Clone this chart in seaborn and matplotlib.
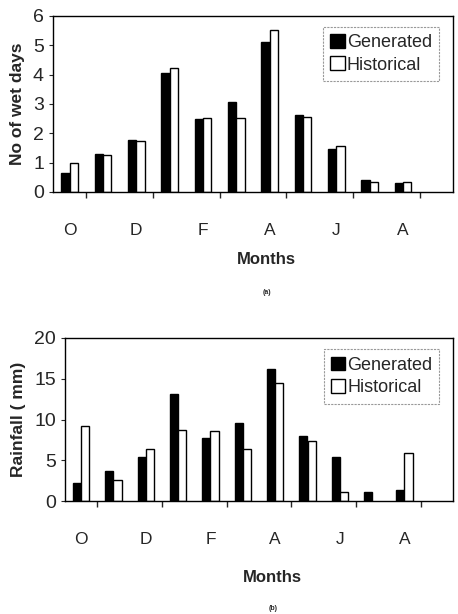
import numpy as np
import pandas as pd
import matplotlib
matplotlib.use("Agg")
import matplotlib.pyplot as plt
import seaborn as sns

meses = ["O", "N", "D", "J", "F", "M", "A", "M", "J", "J", "A", "S"]
rotulos_x = ["O", "", "D", "", "F", "", "A", "", "J", "", "A", ""]

dias_gerados = [0.66, 1.30, 1.76, 4.06, 2.49, 3.06, 5.10, 2.63, 1.47, 0.41, 0.32, np.nan]
dias_historicos = [1.00, 1.25, 1.75, 4.24, 2.52, 2.52, 5.52, 2.55, 1.57, 0.33, 0.33, np.nan]

chuva_gerada = [2.17, 3.72, 5.44, 13.09, 7.77, 9.61, 16.16, 8.02, 5.36, 1.06, 1.31, np.nan]
chuva_historica = [9.16, 2.58, 6.38, 8.75, 8.55, 6.34, 14.44, 7.36, 1.10, np.nan, 5.89, np.nan]

sns.set_style("white")
plt.rcParams["font.family"] = ["Liberation Sans", "DejaVu Sans"]

fig = plt.figure(figsize=(4.58, 6.14), dpi=100)
W, H = 458, 614
ordem = [f"{i:02d}" for i in range(len(meses))]


def montar_df(gerado, historico):
    return pd.DataFrame({
        "mes": ordem * 2,
        "valor": gerado + historico,
        "serie": ["Generated"] * len(gerado) + ["Historical"] * len(historico),
    })


def painel(caixa, gerado, historico, ylim, yticks, ylabel, letra, y_months, y_letra, leg_y):
    l, t, r, b = caixa
    ax = fig.add_axes([l / W, 1 - b / H, (r - l) / W, (b - t) / H])
    df = montar_df(gerado, historico)
    sns.barplot(data=df, x="mes", y="valor", hue="serie", order=ordem,
                palette={"Generated": "black", "Historical": "white"},
                edgecolor="black", linewidth=1.0, width=0.5, gap=0,
                ax=ax)
    ax.set_xlim(-0.5, 11.5)
    ax.set_ylim(*ylim)
    ax.set_yticks(yticks)
    ax.set_xticks(range(12))
    ax.set_xticklabels(rotulos_x)
    ax.set_xticks(np.arange(0.5, 11, 2), minor=True)
    ax.tick_params(axis="x", which="major", length=0, labelsize=12.5, pad=22)
    ax.tick_params(axis="x", which="minor", length=4, width=1, direction="out", bottom=True)
    ax.tick_params(axis="y", labelsize=14, length=3, left=True, direction="out")
    ax.set_xlabel("")
    ax.set_ylabel(ylabel, fontsize=12.5, fontweight="bold", labelpad=6)
    for s in ax.spines.values():
        s.set_color("black")
        s.set_linewidth(1.0)
    h, lab = ax.get_legend_handles_labels()
    leg = ax.legend(h, lab, loc="upper right", fontsize=13, frameon=True,
                    fancybox=False, handlelength=0.8, handleheight=0.8,
                    handletextpad=0.1, borderpad=0.4, labelspacing=0.3,
                    borderaxespad=0, bbox_to_anchor=(0.965, leg_y))
    leg.get_frame().set_edgecolor("gray")
    leg.get_frame().set_linestyle((0, (2, 1)))
    leg.get_frame().set_linewidth(0.8)
    fig.text((l + r) / 2 / W + 0.03, 1 - y_months / H, "Months", ha="center", va="center",
             fontsize=12, fontweight="bold")
    fig.text((l + r) / 2 / W + 0.03, 1 - y_letra / H, letra, ha="center", va="center",
             fontsize=5, fontweight="bold")
    return ax


painel((53, 16, 453, 192), dias_gerados, dias_historicos, (0, 6), range(0, 7),
       "No of wet days", "(a)", 260, 292, 0.94)
painel((65, 338, 453, 501), chuva_gerada, chuva_historica, (0, 20), range(0, 21, 5),
       "Rainfall ( mm)", "(b)", 578, 609, 0.93)

fig.savefig("out.png", dpi=100)
